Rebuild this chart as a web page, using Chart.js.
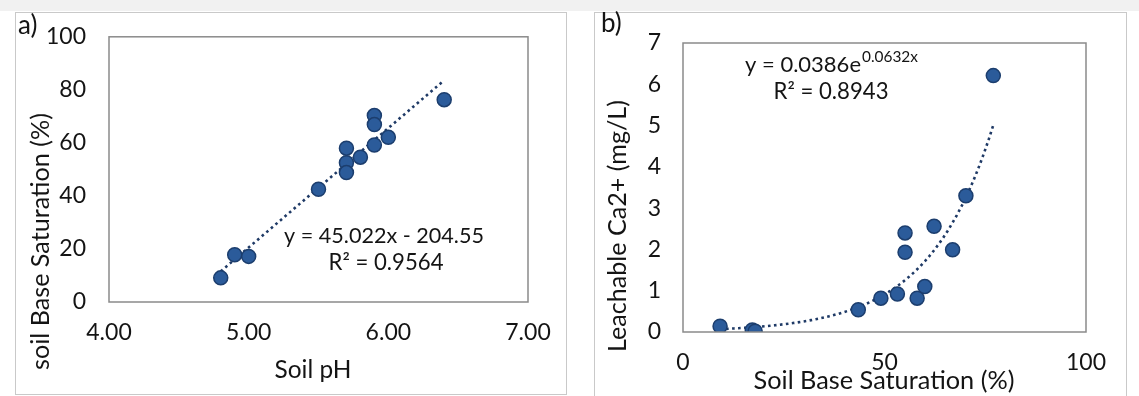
<!DOCTYPE html>
<html>
<head>
<meta charset="utf-8">
<script src="https://cdn.jsdelivr.net/npm/chart.js@4/dist/chart.umd.min.js"></script>
<style>
  html, body { margin: 0; padding: 0; background: #ffffff; }
  body { width: 1139px; height: 396px; position: relative; overflow: hidden; font-family: Lato, sans-serif; }
  .strip { position: absolute; left: 0; top: 0; width: 1139px; height: 11px; background: #f1f1f1; }
  .panel { position: absolute; border: 1px solid #c9c9c9; background: #ffffff; box-sizing: border-box; }
  canvas { position: absolute; left: 0; top: 0; }
</style>
</head>
<body>
<div class="strip"></div>
<div class="panel" style="left:15px; top:12px; width:552px; height:383px;"></div>
<div class="panel" style="left:594px; top:12px; width:533px; height:400px;"></div>
<canvas id="chartA" width="1139" height="396"></canvas>
<canvas id="chartB" width="1139" height="396"></canvas>
<script>
// (a) soil pH vs. base saturation
const soilPH      = [4.8, 4.9, 5.0, 5.5, 5.7, 5.7, 5.7, 5.8, 5.9, 5.9, 5.9, 6.0, 6.4];
const baseSatA    = [9.1, 17.8, 17.2, 42.5, 58.0, 52.5, 48.8, 54.6, 70.3, 66.9, 59.2, 62.1, 76.3];
const linearFit   = [45.022, -204.55];   // slope, intercept
const linearR2    = 0.9564;
const ticksA_X    = [4, 5, 6, 7];
const ticksA_Y    = [0, 20, 40, 60, 80, 100];

// (b) base saturation vs. leachable calcium
const baseSatB    = [9.2, 17.2, 17.9, 43.5, 49.1, 53.2, 55.1, 55.1, 58.1, 60.0, 62.3, 66.9, 70.2, 77.0];
const calcium     = [0.14, 0.05, 0.02, 0.54, 0.82, 0.92, 2.40, 1.93, 0.82, 1.10, 2.56, 1.99, 3.30, 6.21];
const expFit      = [0.0386, 0.0632];    // y = a * e^(b x)
const expR2       = 0.8943;
const ticksB_X    = [0, 50, 100];
const ticksB_Y    = [0, 1, 2, 3, 4, 5, 6, 7];

const FONT = 'Lato, "Noto Sans", sans-serif';
const INK = '#141414';
const POINT_FILL = '#2b5b9a';
const POINT_EDGE = '#1c3e6e';
const TREND = '#1f3a66';

// frame around the plot area + free text (titles, equations, panel letters);
// a text item with `width` is sized so that it spans that many pixels
const annotate = {
  id: 'annotate',
  afterDraw(chart, args, opts) {
    const ctx = chart.ctx;
    const a = chart.chartArea;
    ctx.save();
    ctx.strokeStyle = '#8a8a8a';
    ctx.lineWidth = 1.5;
    ctx.strokeRect(a.left, a.top, a.right - a.left, a.bottom - a.top);
    ctx.fillStyle = INK;
    for (const t of opts.items || []) {
      ctx.save();
      ctx.translate(t.x, t.y);
      if (t.rotate) ctx.rotate(t.rotate);
      let size = t.size;
      ctx.font = `${size}px ${FONT}`;
      if (t.width) {
        size = size * t.width / ctx.measureText(t.text).width;
        ctx.font = `${size}px ${FONT}`;
      }
      ctx.textBaseline = 'middle';
      const w = ctx.measureText(t.text).width;
      let supSize = t.supSize, sw = 0;
      if (t.sup) {
        ctx.font = `${supSize}px ${FONT}`;
        if (t.supWidth) {
          supSize = supSize * t.supWidth / ctx.measureText(t.sup).width;
          ctx.font = `${supSize}px ${FONT}`;
        }
        sw = ctx.measureText(t.sup).width;
      }
      const x0 = t.align === 'left' ? 0 : -(w + sw) / 2;
      ctx.font = `${size}px ${FONT}`;
      ctx.textAlign = 'left';
      ctx.fillText(t.text, x0, 0);
      if (t.sup) {
        ctx.font = `${supSize}px ${FONT}`;
        ctx.fillText(t.sup, x0 + w + 1, -size * 0.36);
      }
      ctx.restore();
    }
    ctx.restore();
  }
};

function fixedAxes(yWidth, xHeight) {
  return {
    y: (scale) => { scale.width = yWidth; },
    x: (scale) => { scale.height = xHeight; }
  };
}

function axisConfig(min, max, ticks, fmt, pad, fit) {
  return {
    type: 'linear',
    min: min, max: max,
    afterBuildTicks: (scale) => { scale.ticks = ticks.map(v => ({ value: v })); },
    afterFit: fit,
    grid: { display: false, drawTicks: false },
    border: { display: false },
    title: { display: false },
    ticks: {
      padding: pad,
      color: INK,
      font: { family: FONT, size: 23 },
      callback: fmt
    }
  };
}

// ---------- chart (a)
const ptsA = soilPH.map((x, i) => ({ x: x, y: baseSatA[i] }));
const xMinA = Math.min(...soilPH), xMaxA = Math.max(...soilPH);
const lineA = [xMinA, xMaxA].map(x => ({ x: x, y: linearFit[0] * x + linearFit[1] }));
const fitA = fixedAxes(109, 94);

new Chart(document.getElementById('chartA'), {
  type: 'scatter',
  data: {
    datasets: [
      { data: ptsA, order: 0, pointRadius: 7, pointBackgroundColor: POINT_FILL,
        pointBorderColor: POINT_EDGE, pointBorderWidth: 1.5 },
      { data: lineA, order: 1, showLine: true, pointRadius: 0, borderColor: TREND,
        borderWidth: 2.6, borderDash: [2.6, 3.4], fill: false }
    ]
  },
  options: {
    responsive: false, animation: false, events: [],
    layout: { padding: { left: 0, top: 25, right: 1139 - 528, bottom: 0 } },
    plugins: {
      legend: { display: false }, tooltip: { enabled: false },
      annotate: { items: [
        { text: 'a)', x: 18, y: 26, size: 26, align: 'left' },
        { text: 'soil Base Saturation (%)', x: 41, y: 241.5, size: 24, width: 257, rotate: -Math.PI / 2 },
        { text: 'Soil pH', x: 313, y: 370, size: 24, width: 77 },
        { text: `y = ${linearFit[0]}x - ${Math.abs(linearFit[1])}`, x: 384, y: 236, size: 24, width: 200 },
        { text: `R² = ${linearR2}`, x: 386, y: 262.5, size: 24, width: 115 }
      ] }
    },
    scales: {
      x: axisConfig(4, 7, ticksA_X, v => Number(v).toFixed(2), 17, fitA.x),
      y: axisConfig(0, 100, ticksA_Y, v => v, 23, fitA.y)
    }
  },
  plugins: [annotate]
});

// ---------- chart (b)
const ptsB = baseSatB.map((x, i) => ({ x: x, y: calcium[i] }));
const xMinB = Math.min(...baseSatB), xMaxB = Math.max(...baseSatB);
const lineB = [];
for (let k = 0; k <= 60; k++) {
  const x = xMinB + (xMaxB - xMinB) * k / 60;
  lineB.push({ x: x, y: expFit[0] * Math.exp(expFit[1] * x) });
}
const fitB = fixedAxes(683, 396 - 332);

new Chart(document.getElementById('chartB'), {
  type: 'scatter',
  data: {
    datasets: [
      { data: ptsB, order: 0, pointRadius: 7, pointBackgroundColor: POINT_FILL,
        pointBorderColor: POINT_EDGE, pointBorderWidth: 1.5 },
      { data: lineB, order: 1, showLine: true, pointRadius: 0, borderColor: TREND,
        borderWidth: 2.6, borderDash: [2.6, 3.4], fill: false, tension: 0 }
    ]
  },
  options: {
    responsive: false, animation: false, events: [],
    layout: { padding: { left: 0, top: 43, right: 1139 - 1086, bottom: 0 } },
    plugins: {
      legend: { display: false }, tooltip: { enabled: false },
      annotate: { items: [
        { text: 'b)', x: 601, y: 24, size: 26, align: 'left' },
        { text: 'Leachable Ca2+ (mg/L)', x: 618, y: 226, size: 24, width: 252, rotate: -Math.PI / 2 },
        { text: 'Soil Base Saturation (%)', x: 884, y: 381, size: 24, width: 261 },
        { text: `y = ${expFit[0]}e`, sup: `${expFit[1]}x`, supSize: 16, supWidth: 56,
          x: 831, y: 65, size: 24, width: 116 },
        { text: `R² = ${expR2}`, x: 831, y: 91.5, size: 24, width: 115 }
      ] }
    },
    scales: {
      x: axisConfig(0, 100, ticksB_X, v => v, 17, fitB.x),
      y: axisConfig(0, 7, ticksB_Y, v => v, 22, fitB.y)
    }
  },
  plugins: [annotate]
});
</script>
</body>
</html>
